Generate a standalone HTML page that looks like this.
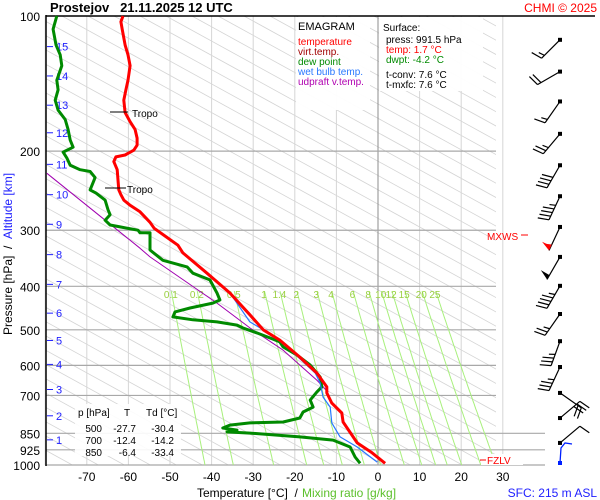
<!DOCTYPE html>
<html><head><meta charset="utf-8"><style>
body{margin:0;background:#fff}
svg{display:block;font-family:"Liberation Sans",sans-serif}
</style></head><body>
<svg id="chart" width="600" height="500" viewBox="0 0 600 500">
<g id="bg"></g>
<g id="series"></g>
<g id="over"></g>
</svg>
<script>
// ---- data ----
const pressureTicks=[100,200,300,400,500,600,700,850,925,1000];
const tempTicks=[-70,-60,-50,-40,-30,-20,-10,0,10,20,30];
const mixRatios=[0.1,0.2,0.5,1,1.4,2,3,4,6,8,10,12,15,20,25];
const mixLabels=["0.1","0.2","0.5","1","1.4","2","3","4","6","8","10","12","15","20","25"];
const altKm=[15,14,13,12,11,10,9,8,7,6,5,4,3,2,1];
const altP=[117,136,158,182,214,250,291,340,396,459,528,597,679,777,879];
const tempP=[100,103,107,116,122,129,139,146,154,164,172,179,187,194,199,204,206,211,220,232,244,250,257,264,273,288,297,309,324,337,374,414,463,500,527,575,624,670,691,728,766,802,857,893,940,991.5];
const tempT=[-61.3,-61.8,-61.5,-60.8,-60.1,-59.6,-60.1,-60.6,-61.1,-60.8,-59.6,-58.4,-57.9,-57.9,-58.7,-60.8,-63.0,-63.5,-62.7,-62.5,-62.3,-61.8,-61.1,-59.6,-57.2,-54.8,-53.8,-51.2,-48.1,-46.9,-41.1,-35.6,-30.8,-27.6,-23.6,-18.8,-14.7,-12.3,-12.3,-11.1,-8.7,-8.4,-6.3,-5.0,-1.4,1.7];
const dewP=[100,107,116,122,129,139,146,154,162,170,179,189,196,201,207,215,220,222,229,244,248,257,270,277,285,292,295,300,304,304,315,332,350,362,374,387,414,429,436,447,456,468,475,480,488,495,508,521,532,546,569,599,637,670,688,717,743,762,786,802,806,815,827,836,844,849,866,880,912,960,991.5];
const dewT=[-77.2,-78.1,-77.4,-76.4,-76.0,-77.2,-76.9,-77.6,-76.9,-75.2,-74.5,-74.0,-73.3,-75.7,-74.8,-74.0,-71.6,-69.2,-68.0,-69.2,-67.8,-65.6,-64.9,-64.4,-65.6,-64.4,-62.0,-57.7,-57.2,-54.8,-54.8,-54.8,-51.7,-45.9,-44.5,-40.4,-38.7,-38.0,-39.7,-45.2,-48.8,-49.3,-44.5,-38.7,-33.9,-32.5,-29.1,-26.0,-23.6,-22.8,-19.5,-16.3,-13.9,-13.5,-14.7,-16.3,-15.6,-18.0,-18.8,-22.8,-30.8,-35.6,-37.3,-33.9,-36.3,-30.8,-18.8,-10.8,-6.7,-5.5,-4.3];
const wetP=[414,423,480,521,575,624,657,706,743,806,866,912,985];
const wetT=[-35.6,-34.9,-30.8,-24.3,-19.2,-15.1,-13.9,-13.2,-11.5,-11.1,-9.1,-5.0,-0.2];
const parcelP=[224,329,344,436,495,555,647,688];
const parcelT=[-79.6,-57.2,-54.8,-38.7,-30.8,-22.8,-14.7,-12.0];
const windP=[113,133,155,183,215,252,295,344,399,461,530,605,691,786,893];
const windDir=[225,240,215,220,210,205,205,210,210,215,200,205,125,50,50];
const windSpd=[15,20,15,25,40,45,55,50,45,25,35,35,20,30,10];
// ---- axes ----
const xT=t=>378+4.16*t;
const yP=p=>465-195*Math.log(1000/p);
const NS="http://www.w3.org/2000/svg";
function mk(tag,attrs,parent){const e=document.createElementNS(NS,tag);for(const k in attrs)e.setAttribute(k,attrs[k]);parent.appendChild(e);return e;}
const bg=document.getElementById('bg'),se=document.getElementById('series'),ov=document.getElementById('over');
const cp=mk('clipPath',{id:'pc'},bg);
mk('rect',{x:46,y:16,width:450,height:449},cp);
const dg=mk('g',{'clip-path':'url(#pc)'},bg);

for(let x0=-900;x0<500;x0+=26){mk('line',{x1:x0,y1:16,x2:x0+820,y2:16+451,stroke:'#d4d4d4','stroke-width':0.8},dg);}
tempTicks.concat([-80]).forEach(t=>{const l=mk('line',{x1:xT(t),y1:16,x2:xT(t),y2:465,stroke:t===0?'#8c8c8c':'#d6d6d6','stroke-width':1},bg);
});
pressureTicks.forEach(p=>{const y=yP(p);const l=mk('line',{x1:46,y1:y,x2:p>=850?545:496,y2:y,stroke:p===100?'#000':'#a8a8a8','stroke-width':p===100?1.5:1.2},bg);

const t=mk('text',{x:40,y:y+5,'text-anchor':'end','font-size':12},bg);t.textContent=p;
});
mk('line',{x1:496,y1:16,x2:595,y2:16,stroke:'#000','stroke-width':1.5},bg);
mk('line',{x1:46,y1:15,x2:46,y2:466,stroke:'#000','stroke-width':1.5},bg);
function tdOf(w,p){const e=w*p/(622+w);const l=Math.log(e/6.112);return 243.5*l/(17.67-l);}
mixRatios.forEach((w,i)=>{let d='';for(let p=410;p<=1000;p+=10){d+=(p===410?'M':'L')+xT(tdOf(w,p)).toFixed(1)+','+yP(p).toFixed(1);}
const l=mk('path',{d:d,fill:'none',stroke:'#a8f07c','stroke-width':1},bg);

const t=mk('text',{x:xT(tdOf(w,405)),y:298,'text-anchor':'middle','font-size':10,fill:'#9ad040'},bg);t.textContent=mixLabels[i];
});
tempTicks.forEach(t=>{const e=mk('text',{x:xT(t),y:481,'text-anchor':'middle','font-size':12},bg);e.textContent=t;
});
altKm.forEach((k,i)=>{const y=yP(altP[i]);mk('line',{x1:47,y1:y,x2:53,y2:y,stroke:'#2020ff','stroke-width':1},bg);
const e=mk('text',{x:56,y:y+4,'font-size':11,fill:'#2020ff'},bg);e.textContent=k;
});
function line(P,T,color,w,name){let d='';P.forEach((p,i)=>{d+=(i?'L':'M')+xT(T[i]).toFixed(1)+','+yP(p).toFixed(1);});
const l=mk('path',{d:d,fill:'none',stroke:color,'stroke-width':w,'stroke-linejoin':'round'},se);
}
line(parcelP,parcelT,'#a000b0',1,'parcel-line');
line(dewP,dewT,'#008a00',3,'dewpoint-line');
line(wetP,wetT,'#2878ff',1.2,'wetbulb-line');
line(tempP,tempT,'#ff0000',3,'temperature-line');
windP.forEach((p,i)=>{const g=mk('g',{},ov);
const col=windSpd[i]>=55?'#ff0000':'#000';const rx=560,ry=yP(p);const a=windDir[i]*Math.PI/180;const L=26;
const ux=Math.sin(a),uy=-Math.cos(a);const ex=rx+ux*L,ey=ry+uy*L;
mk('line',{x1:rx,y1:ry,x2:ex,y2:ey,stroke:'#000','stroke-width':1.2},g);
mk('rect',{x:rx-2,y:ry-2,width:4,height:4,fill:'#000'},g);
const px=-uy,py=ux;let s=windSpd[i],pos=0;
while(s>=50){const bx=ex-ux*pos,by=ey-uy*pos;mk('polygon',{points:`${bx},${by} ${bx-ux*5+px*10},${by-uy*5+py*10} ${bx-ux*5},${by-uy*5}`,fill:col},g);s-=50;pos+=6;}
while(s>=10){const bx=ex-ux*pos,by=ey-uy*pos;mk('line',{x1:bx,y1:by,x2:bx+px*11+ux*3,y2:by+py*11+uy*3,stroke:col,'stroke-width':1.2},g);s-=10;pos+=4;}
if(s>=5){const bx=ex-ux*pos,by=ey-uy*pos;mk('line',{x1:bx,y1:by,x2:bx+px*6+ux*2,y2:by+py*6+uy*2,stroke:col,'stroke-width':1.2},g);}
});
</script>
<svg width="600" height="500" style="position:absolute;left:0;top:0" font-family="Liberation Sans, sans-serif">
<text x="50" y="12" font-size="13" font-weight="bold">Prostejov&#160;&#160;&#160;21.11.2025 12 UTC</text>
<text x="597" y="12" font-size="12" fill="#ff0000" text-anchor="end">CHMI © 2025</text>
<g>
<rect x="296" y="17" width="74" height="93" fill="#fff" opacity="0.95"/>
<text x="298" y="30" font-size="11">EMAGRAM</text>
<text x="298" y="45" font-size="10" fill="#ff0000">temperature</text>
<text x="298" y="55" font-size="10" fill="#a00000">virt.temp.</text>
<text x="298" y="65" font-size="10" fill="#008a00">dew point</text>
<text x="298" y="75" font-size="10" fill="#2878ff">wet bulb temp.</text>
<text x="298" y="85" font-size="10" fill="#b000b0">udpraft v.temp.</text>
</g>
<g>
<rect x="379" y="17" width="104" height="74" fill="#fff" opacity="0.95"/>
<text x="383" y="31" font-size="10">Surface:</text>
<text x="386" y="43" font-size="10">press: 991.5 hPa</text>
<text x="386" y="53" font-size="10" fill="#ff0000">temp: 1.7 °C</text>
<text x="386" y="63" font-size="10" fill="#008a00">dwpt: -4.2 °C</text>
<text x="386" y="78" font-size="10">t-conv: 7.6 °C</text>
<text x="386" y="88" font-size="10">t-mxfc: 7.6 °C</text>
</g>
<g font-size="10">
<rect x="75" y="404" width="106" height="52" fill="#fff" opacity="0.9"/>
<text x="78" y="416">p [hPa]</text><text x="124" y="416">T</text><text x="146" y="416">Td [°C]</text>
<text x="102" y="432" text-anchor="end">500</text><text x="136" y="432" text-anchor="end">-27.7</text><text x="174" y="432" text-anchor="end">-30.4</text>
<text x="102" y="444" text-anchor="end">700</text><text x="136" y="444" text-anchor="end">-12.4</text><text x="174" y="444" text-anchor="end">-14.2</text>
<text x="102" y="456" text-anchor="end">850</text><text x="136" y="456" text-anchor="end">-6.4</text><text x="174" y="456" text-anchor="end">-33.4</text>
</g>
<g>
<line x1="110" y1="112" x2="128" y2="112" stroke="#000"/><text x="132" y="117" font-size="10">Tropo</text>
<line x1="105" y1="188" x2="126" y2="188" stroke="#000"/><text x="127" y="193" font-size="10">Tropo</text>
</g>
<text x="487" y="240" font-size="10" fill="#ff0000">MXWS</text>
<line x1="521" y1="235" x2="528" y2="235" stroke="#ff0000"/>
<rect x="481" y="454" width="42" height="11" fill="#fff"/>
<line x1="480" y1="460" x2="486" y2="460" stroke="#ff0000"/>
<text x="487" y="464" font-size="10" fill="#ff0000">FZLV</text>
<polyline points="560,463 561,448 565,443 572,444" fill="none" stroke="#0020ff" stroke-width="1.3"/>
<rect x="558" y="461" width="4" height="4" fill="#0020ff"/>
<text x="197" y="497" font-size="12">Temperature [°C]&#160;&#160;/</text>
<text x="302" y="497" font-size="12" fill="#5cc02c">Mixing ratio [g/kg]</text>
<text x="597" y="497" font-size="12" fill="#2020ff" text-anchor="end">SFC: 215 m ASL</text>
<text transform="translate(12,335) rotate(-90)" font-size="12">Pressure [hPa]&#160;&#160;/&#160;&#160;<tspan fill="#2020ff">Altitude [km]</tspan></text>
</svg>
</body></html>
